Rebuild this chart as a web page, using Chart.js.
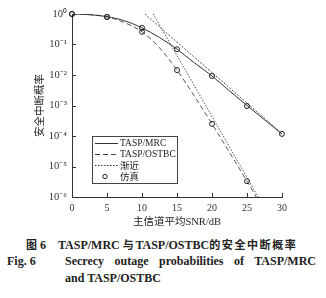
<!DOCTYPE html>
<html><head><meta charset="utf-8">
<script src="https://cdn.jsdelivr.net/npm/chart.js@4/dist/chart.umd.min.js"></script>
<style>
html,body{margin:0;padding:0;background:#fff;width:326px;height:298px;overflow:hidden;}
#wrap{position:absolute;left:0;top:0;width:326px;height:232px;}
.cap{position:absolute;font-weight:bold;color:#222;white-space:nowrap;font-family:"Liberation Serif","Noto Sans CJK SC",serif;font-size:12px;}
.cjk{font-family:"Noto Sans CJK SC",sans-serif;font-size:11px;letter-spacing:1.6px;}
</style></head><body>
<div id="wrap"><canvas id="c" width="326" height="232"></canvas></div>
<div class="cap" style="left:26px;top:236px;"><span class="cjk" style="letter-spacing:0">图</span>&nbsp;6&nbsp;&nbsp;&nbsp; TASP/MRC <span class="cjk">与</span>TASP/OSTBC<span class="cjk">的安全中断概率</span></div>
<div class="cap" style="left:7px;top:254px;">Fig. 6</div>
<div class="cap" style="left:65px;top:254px;width:251px;text-align:justify;text-align-last:justify;white-space:normal;">Secrecy outage probabilities of TASP/MRC</div>
<div class="cap" style="left:65px;top:271px;">and TASP/OSTBC</div>
<script>
// ---- data ----
const snrGrid     = [0, 2.5, 5, 7.5, 10, 12.5, 15, 17.5, 20, 22.5, 25, 27.5, 30];
const mrcTheory   = [1, 0.95, 0.82, 0.6, 0.35, 0.17, 0.07, 0.025, 0.0093, 0.003, 0.001, 0.00034, 0.000117];
const ostbcTheory = [1, 0.95, 0.8, 0.52, 0.26, 0.078, 0.0145, 0.002, 0.00025, 0.000029, 0.0000033, 0.00000035, 0.00000004];
const simSNR      = [0, 5, 10, 15, 20, 25, 30];
const mrcSim      = [1, 0.8, 0.35, 0.07, 0.0093, 0.00096, 0.000117];
const ostbcSim    = [1, 0.8, 0.26, 0.0145, 0.00025, 0.0000033, null];
const mrcAsymX    = [10.4, 30];
const mrcAsymY    = [1, 0.00012];
const ostbcAsymX  = [11.6, 26.6];
const ostbcAsymY  = [1, 0.000001];
const xTicks      = [0, 5, 10, 15, 20, 25, 30];
const yTicks      = [1e-6, 1e-5, 1e-4, 1e-3, 1e-2, 1e-1, 1];
const yTickLabels = ['10⁻⁶', '10⁻⁵', '10⁻⁴', '10⁻³', '10⁻²', '10⁻¹', '10⁰'];
const legendLabels = ['TASP/MRC', 'TASP/OSTBC', '渐近', '仿真'];

const pts = (xs, ys) => xs.map((x, i) => ({x: x, y: ys[i]})).filter(p => p.y !== null);
const serif = '"Liberation Serif", "Noto Sans CJK SC", serif';

const inwardTicks = {
  id: 'inwardTicks',
  afterDraw(chart) {
    const ctx = chart.ctx, xs = chart.scales.x, ys = chart.scales.y, a = chart.chartArea;
    ctx.save();
    ctx.strokeStyle = '#333'; ctx.lineWidth = 1;
    ctx.beginPath();
    xTicks.forEach(v => { const px = Math.round(xs.getPixelForValue(v)) + 0.5; ctx.moveTo(px, a.bottom); ctx.lineTo(px, a.bottom - 4); });
    yTicks.forEach(v => { const py = Math.round(ys.getPixelForValue(v)) + 0.5; ctx.moveTo(a.left, py); ctx.lineTo(a.left + 4, py); });
    ctx.stroke();
    ctx.restore();
  }
};

const legendBox = {
  id: 'legendBox',
  afterDraw(chart) {
    const ctx = chart.ctx;
    const x0 = 92, y0 = 136, w = 85, h = 47;
    ctx.save();
    ctx.fillStyle = '#fff'; ctx.fillRect(x0, y0, w, h);
    ctx.strokeStyle = '#444'; ctx.lineWidth = 1;
    ctx.strokeRect(x0 + 0.5, y0 + 0.5, w, h);
    const rows = [143.5, 154.5, 165.5, 176.5];
    const styles = [
      {dash: [], color: '#333'},
      {dash: [5, 3], color: '#444'},
      {dash: [1.5, 1.5], color: '#333'},
      null
    ];
    rows.forEach((ry, i) => {
      const s = styles[i];
      if (s) {
        ctx.setLineDash(s.dash); ctx.strokeStyle = s.color; ctx.lineWidth = 1;
        ctx.beginPath(); ctx.moveTo(95, ry); ctx.lineTo(118, ry); ctx.stroke();
      } else {
        ctx.setLineDash([]); ctx.strokeStyle = '#222';
        ctx.beginPath(); ctx.arc(105, ry, 2.2, 0, Math.PI * 2); ctx.stroke();
      }
      ctx.fillStyle = '#222';
      ctx.font = (i >= 2 ? '9.5px "Noto Sans CJK SC"' : '9.5px ' + serif);
      ctx.textBaseline = 'middle'; ctx.textAlign = 'left';
      ctx.fillText(legendLabels[i], 120, ry);
    });
    ctx.restore();
  }
};

new Chart(document.getElementById('c'), {
  type: 'scatter',
  data: {
    datasets: [
      {label: '仿真', data: pts(simSNR, mrcSim), showLine: false, pointRadius: 2.5, pointBorderWidth: 1, clip: false,
       pointBorderColor: '#222', pointBackgroundColor: 'rgba(0,0,0,0)'},
      {label: '仿真', data: pts(simSNR, ostbcSim), showLine: false, pointRadius: 2.5, pointBorderWidth: 1, clip: false,
       pointBorderColor: '#222', pointBackgroundColor: 'rgba(0,0,0,0)'},
      {label: 'TASP/MRC', data: pts(snrGrid, mrcTheory), showLine: true, pointRadius: 0,
       borderColor: '#333', borderWidth: 1, cubicInterpolationMode: 'monotone'},
      {label: 'TASP/OSTBC', data: pts(snrGrid, ostbcTheory), showLine: true, pointRadius: 0,
       borderColor: '#555', borderWidth: 1, borderDash: [5, 3], cubicInterpolationMode: 'monotone'},
      {label: '渐近', data: pts(mrcAsymX, mrcAsymY), showLine: true, pointRadius: 0,
       borderColor: '#555', borderWidth: 1, borderDash: [2, 1.5]},
      {label: '渐近', data: pts(ostbcAsymX, ostbcAsymY), showLine: true, pointRadius: 0,
       borderColor: '#555', borderWidth: 1, borderDash: [1.5, 1.5]}
    ]
  },
  options: {
    responsive: false, animation: false, devicePixelRatio: 1,
    layout: {padding: {left: 0, right: 44, top: 14, bottom: 0}},
    plugins: {legend: {display: false}, tooltip: {enabled: false}},
    scales: {
      x: {
        type: 'linear', min: 0, max: 30,
        afterBuildTicks: s => { s.ticks = xTicks.map(v => ({value: v})); },
        afterFit: s => { s.height = 35; },
        grid: {drawOnChartArea: false, drawTicks: false},
        border: {display: true, color: '#333', width: 1},
        ticks: {padding: 5, color: '#333', font: {family: serif, size: 10}},
        title: {display: true, text: '主信道平均SNR/dB', color: '#222', padding: {top: 0, bottom: 3},
                font: {family: '"Liberation Serif", "Noto Sans CJK SC", serif', size: 10.5}}
      },
      y: {
        type: 'logarithmic', min: 1e-6, max: 1,
        afterBuildTicks: s => { s.ticks = yTicks.map(v => ({value: v})); },
        afterFit: s => { s.width = 72; },
        grid: {drawOnChartArea: false, drawTicks: false},
        border: {display: true, color: '#333', width: 1},
        ticks: {padding: 5, color: '#333', font: {family: serif, size: 10.5},
                callback: (v) => yTickLabels[yTicks.findIndex(t => Math.abs(Math.log10(t) - Math.log10(v)) < 1e-6)]},
        title: {display: true, text: '安全中断概率', color: '#222', padding: {top: 33, bottom: 0},
                font: {family: '"Noto Sans CJK SC", sans-serif', size: 10.5}}
      }
    }
  },
  plugins: [inwardTicks, legendBox]
});
</script>
</body></html>
